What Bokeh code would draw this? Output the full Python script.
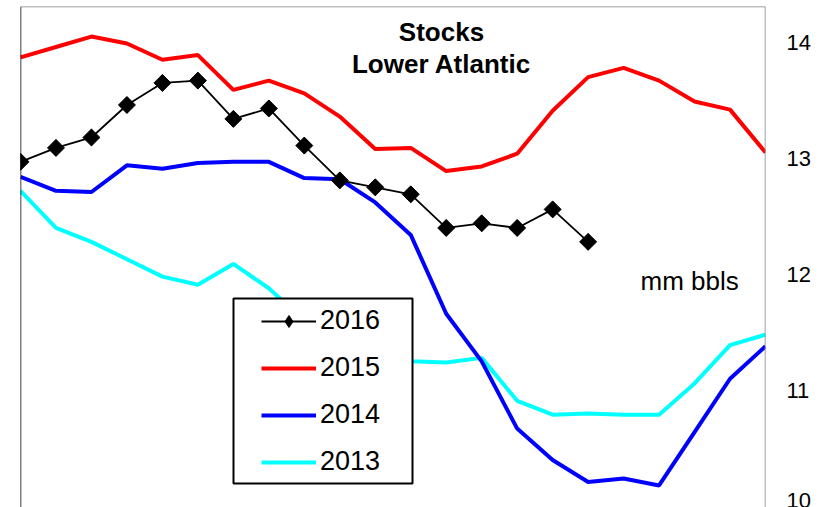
from bokeh.plotting import figure
from bokeh.models import (Range1d, FixedTicker, Label, Legend, LegendItem,
                          BoxAnnotation, Span)
from bokeh.embed import file_html
from bokeh.resources import INLINE

# week index along the x axis (x axis itself is not shown in the reference)
weeks = list(range(1, 23))

y2016 = [12.97, 13.09, 13.18, 13.46, 13.65, 13.67, 13.34, 13.43, 13.11, 12.81, 12.75,
         12.69, 12.40, 12.44, 12.40, 12.56, 12.28]
y2015 = [13.87, 13.96, 14.05, 13.99, 13.85, 13.89, 13.59, 13.67, 13.56, 13.36, 13.08,
         13.09, 12.89, 12.93, 13.04, 13.41, 13.70, 13.78, 13.67, 13.49, 13.42, 13.05]
y2014 = [12.84, 12.72, 12.71, 12.94, 12.91, 12.96, 12.97, 12.97, 12.83, 12.82, 12.62,
         12.34, 11.66, 11.25, 10.67, 10.40, 10.21, 10.24, 10.18, 10.64, 11.10, 11.38]
y2013 = [12.72, 12.40, 12.28, 12.13, 11.98, 11.91, 12.09, 11.88, 11.60, 11.40, 11.27,
         11.25, 11.24, 11.28, 10.91, 10.79, 10.80, 10.79, 10.79, 11.06, 11.39, 11.48]

y_ticks = [10, 11, 12, 13, 14]
title_lines = ["Stocks", "Lower Atlantic"]
unit_label = "mm bbls"
series_names = ["2016", "2015", "2014", "2013"]

FONT = "Liberation Sans"
Y_TOP = 14.309

p = figure(width=832, height=507, output_backend="svg", toolbar_location=None,
           x_axis_location=None, y_axis_location="right",
           x_range=Range1d(weeks[0], weeks[-1]), y_range=Range1d(9.99, Y_TOP),
           min_border_left=20, min_border_right=67, min_border_top=6, min_border_bottom=0,
           background_fill_color="white", border_fill_color="white")

p.xgrid.visible = False
p.ygrid.visible = False
p.outline_line_color = None

ax = p.yaxis[0]
ax.ticker = FixedTicker(ticks=y_ticks)
ax.axis_line_color = None
ax.major_tick_line_color = None
ax.minor_tick_line_color = None
ax.major_tick_in = 0
ax.major_tick_out = 0
ax.major_label_standoff = 21
ax.major_label_text_font = FONT
ax.major_label_text_font_size = "22px"
ax.major_label_text_color = "black"

# plot-area border: black left, gray top and right (bottom runs off the picture)
p.add_layout(Span(location=weeks[0], dimension="height", line_color="black", line_width=1.5))
p.add_layout(Span(location=weeks[-1], dimension="height", line_color="#808080", line_width=1.5))
p.add_layout(Span(location=Y_TOP, dimension="width", line_color="#808080", line_width=1.5))

r13 = p.line(weeks[:len(y2013)], y2013, line_color="#00FFFF", line_width=4)
r14 = p.line(weeks[:len(y2014)], y2014, line_color="#0000FF", line_width=4)
r15 = p.line(weeks[:len(y2015)], y2015, line_color="#FF0000", line_width=4)
r16l = p.line(weeks[:len(y2016)], y2016, line_color="black", line_width=1.8)
# diamond markers (hidden under the rotated squares) serve as the legend key
r16key = p.scatter(weeks[:len(y2016)], y2016, marker="diamond", size=16,
                   fill_color="black", line_color="black")
r16m = p.scatter(weeks[:len(y2016)], y2016, marker="square", size=12, angle=0.785398,
                 fill_color="black", line_color="black")

# title inside the plot area
p.add_layout(Label(x=421, y=476, x_units="screen", y_units="screen", text=title_lines[0],
                   text_align="center", text_baseline="middle", text_font=FONT,
                   text_font_size="26px", text_font_style="bold", text_color="black"))
p.add_layout(Label(x=421, y=444, x_units="screen", y_units="screen", text=title_lines[1],
                   text_align="center", text_baseline="middle", text_font=FONT,
                   text_font_size="26px", text_font_style="bold", text_color="black"))
p.add_layout(Label(x=620, y=227, x_units="screen", y_units="screen", text=unit_label,
                   text_align="left", text_baseline="middle", text_font=FONT,
                   text_font_size="26px", text_color="black"))

# legend frame
box = BoxAnnotation(left=213, right=392, bottom=24, top=209,
                    left_units="screen", right_units="screen",
                    bottom_units="screen", top_units="screen",
                    fill_color="white", fill_alpha=1.0,
                    line_color="black", line_alpha=1.0, line_width=2)
p.add_layout(box)

legend = Legend(items=[LegendItem(label=series_names[0], renderers=[r16l, r16key]),
                       LegendItem(label=series_names[1], renderers=[r15]),
                       LegendItem(label=series_names[2], renderers=[r14]),
                       LegendItem(label=series_names[3], renderers=[r13])],
                location=(241, 30), padding=0, margin=0, spacing=16,
                glyph_width=55, glyph_height=30, label_height=30, label_standoff=4,
                label_text_font=FONT, label_text_font_size="27px", label_text_color="black",
                border_line_color=None, background_fill_alpha=0)
p.add_layout(legend)

open("out.html", "w").write(file_html(p, INLINE))
